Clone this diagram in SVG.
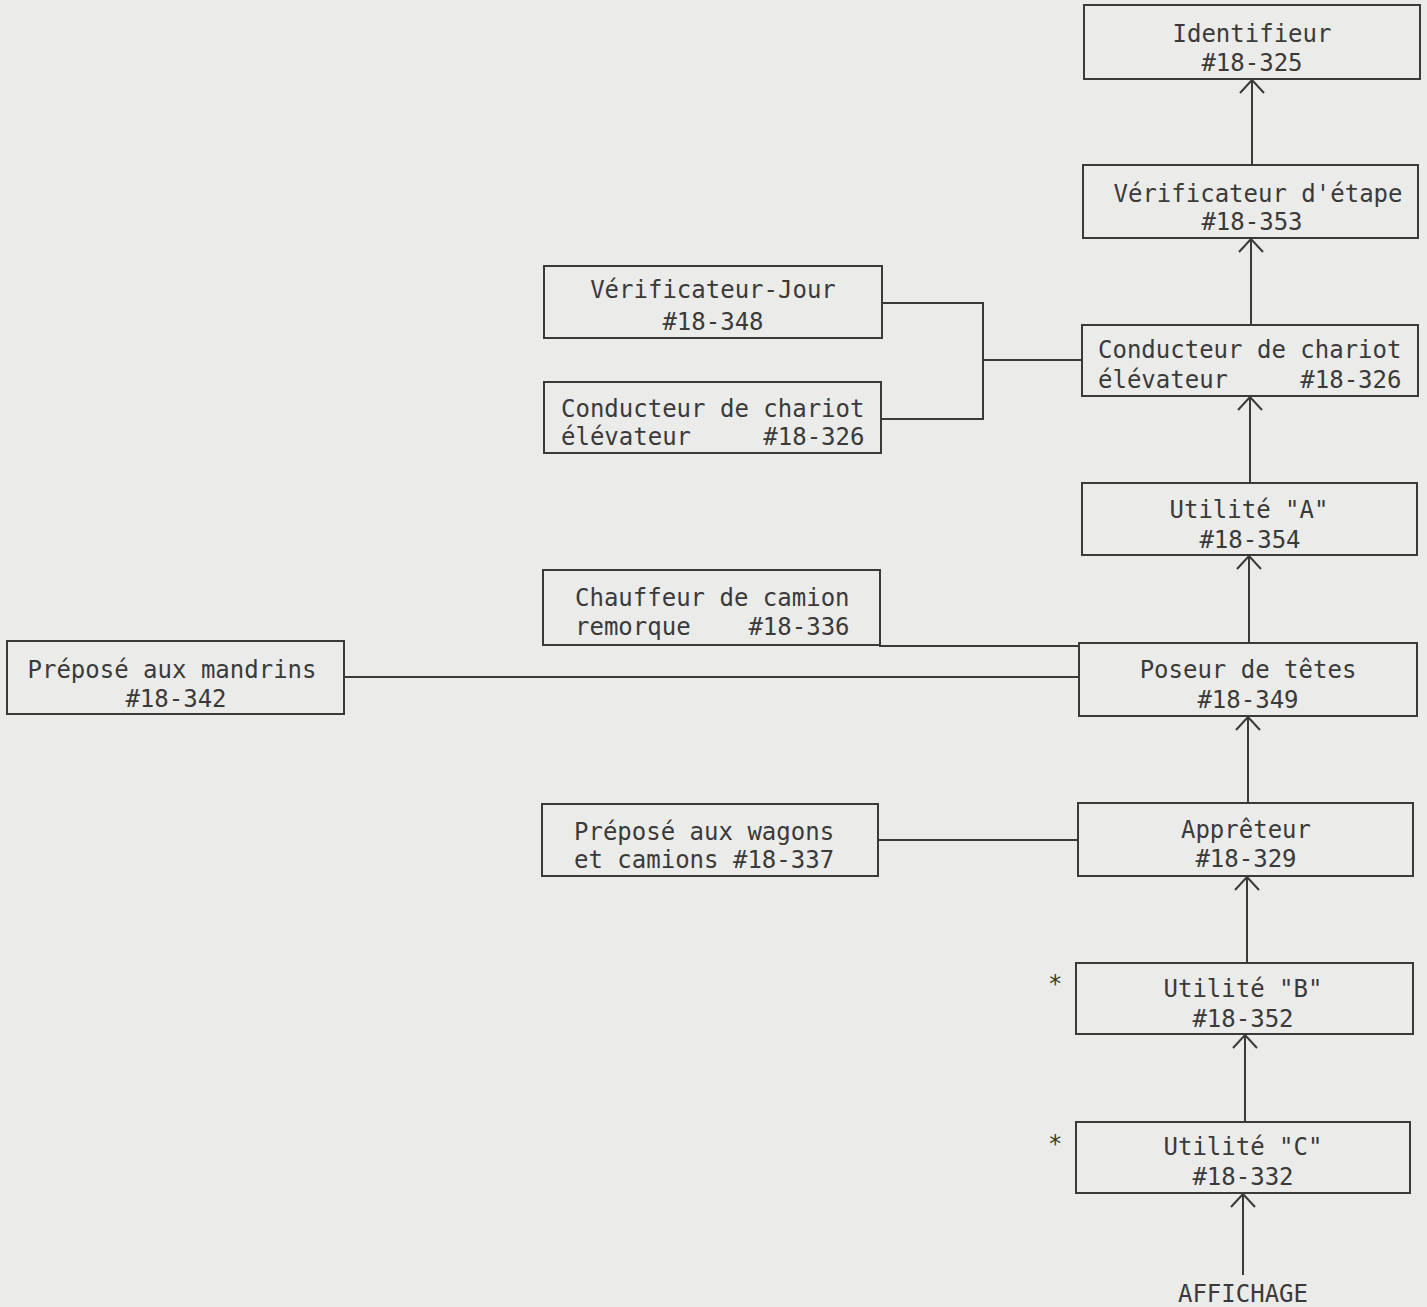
<svg xmlns="http://www.w3.org/2000/svg" width="1427" height="1307" viewBox="0 0 1427 1307">
<style>
.box{fill:none;stroke:#3a3a3a;stroke-width:2}
.ln{fill:none;stroke:#3a3a3a;stroke-width:2}
text{font-family:"DejaVu Sans Mono","Liberation Mono",monospace;font-size:24px;fill:#3a3a3a}
.c{text-anchor:middle}
.r{text-anchor:end}
.pre{white-space:pre}
</style>
<defs>
<marker id="arr" viewBox="-14 -2 28 16" markerWidth="28" markerHeight="16" refX="0" refY="0" orient="0" markerUnits="userSpaceOnUse">
<path d="M-12,13 L0,0 L12,13" fill="none" stroke="#3a3a3a" stroke-width="2"/>
</marker>
</defs>
<rect width="1427" height="1307" fill="#ebebe9"/>

<g id="connectors">
<line class="ln" x1="1252" y1="165" x2="1252" y2="80" marker-end="url(#arr)"/>
<line class="ln" x1="1251" y1="325" x2="1251" y2="239" marker-end="url(#arr)"/>
<line class="ln" x1="1250" y1="483" x2="1250" y2="397" marker-end="url(#arr)"/>
<line class="ln" x1="1249" y1="643" x2="1249" y2="556" marker-end="url(#arr)"/>
<line class="ln" x1="1248" y1="803" x2="1248" y2="717" marker-end="url(#arr)"/>
<line class="ln" x1="1247" y1="963" x2="1247" y2="877" marker-end="url(#arr)"/>
<line class="ln" x1="1245" y1="1122" x2="1245" y2="1035" marker-end="url(#arr)"/>
<line class="ln" x1="1243" y1="1275" x2="1243" y2="1194" marker-end="url(#arr)"/>
<polyline class="ln" points="882,303 983,303 983,419 881,419"/>
<line class="ln" x1="983" y1="360" x2="1082" y2="360"/>
<polyline class="ln" points="880,645 880,646 1080,646"/>
<line class="ln" x1="344" y1="677" x2="1079" y2="677"/>
<line class="ln" x1="878" y1="840" x2="1078" y2="840"/>
</g>

<g id="identifieur">
<rect class="box" x="1084" y="5" width="336" height="74"/>
<text class="c" x="1252" y="42">Identifieur</text>
<text class="c" x="1252" y="71">#18-325</text>
</g>
<g id="verificateur-etape">
<rect class="box" x="1083" y="165" width="335" height="73"/>
<text class="c" x="1258" y="202">Vérificateur d'étape</text>
<text class="c" x="1252" y="230">#18-353</text>
</g>
<g id="conducteur-droite">
<rect class="box" x="1082" y="325" width="336" height="71"/>
<text x="1098" y="358">Conducteur de chariot</text>
<text x="1098" y="388" class="pre">élévateur     #18-326</text>
</g>
<g id="utilite-a">
<rect class="box" x="1082" y="483" width="335" height="72"/>
<text class="c" x="1249" y="518">Utilité "A"</text>
<text class="c" x="1250" y="548">#18-354</text>
</g>
<g id="poseur">
<rect class="box" x="1079" y="643" width="338" height="73"/>
<text class="c" x="1248" y="678">Poseur de têtes</text>
<text class="c" x="1248" y="708">#18-349</text>
</g>
<g id="appreteur">
<rect class="box" x="1078" y="803" width="335" height="73"/>
<text class="c" x="1246" y="838">Apprêteur</text>
<text class="c" x="1246" y="867">#18-329</text>
</g>
<g id="utilite-b">
<rect class="box" x="1076" y="963" width="337" height="71"/>
<text class="c" x="1243" y="997">Utilité "B"</text>
<text class="c" x="1243" y="1027">#18-352</text>
<text x="1048" y="992">*</text>
</g>
<g id="utilite-c">
<rect class="box" x="1076" y="1122" width="334" height="71"/>
<text class="c" x="1243" y="1155">Utilité "C"</text>
<text class="c" x="1243" y="1185">#18-332</text>
<text x="1048" y="1152">*</text>
</g>
<g id="affichage">
<text class="c" x="1243" y="1302">AFFICHAGE</text>
</g>
<g id="verificateur-jour">
<rect class="box" x="544" y="266" width="338" height="72"/>
<text class="c" x="713" y="298">Vérificateur-Jour</text>
<text class="c" x="713" y="330">#18-348</text>
</g>
<g id="conducteur-gauche">
<rect class="box" x="544" y="382" width="337" height="71"/>
<text x="561" y="417">Conducteur de chariot</text>
<text x="561" y="445" class="pre">élévateur     #18-326</text>
</g>
<g id="chauffeur">
<rect class="box" x="543" y="570" width="337" height="75"/>
<text x="575" y="606">Chauffeur de camion</text>
<text x="575" y="635" class="pre">remorque    #18-336</text>
</g>
<g id="prepose-mandrins">
<rect class="box" x="7" y="641" width="337" height="73"/>
<text class="c" x="172" y="678">Préposé aux mandrins</text>
<text class="c" x="176" y="707">#18-342</text>
</g>
<g id="prepose-wagons">
<rect class="box" x="542" y="804" width="336" height="72"/>
<text x="574" y="840">Préposé aux wagons</text>
<text x="574" y="868">et camions #18-337</text>
</g>
</svg>
